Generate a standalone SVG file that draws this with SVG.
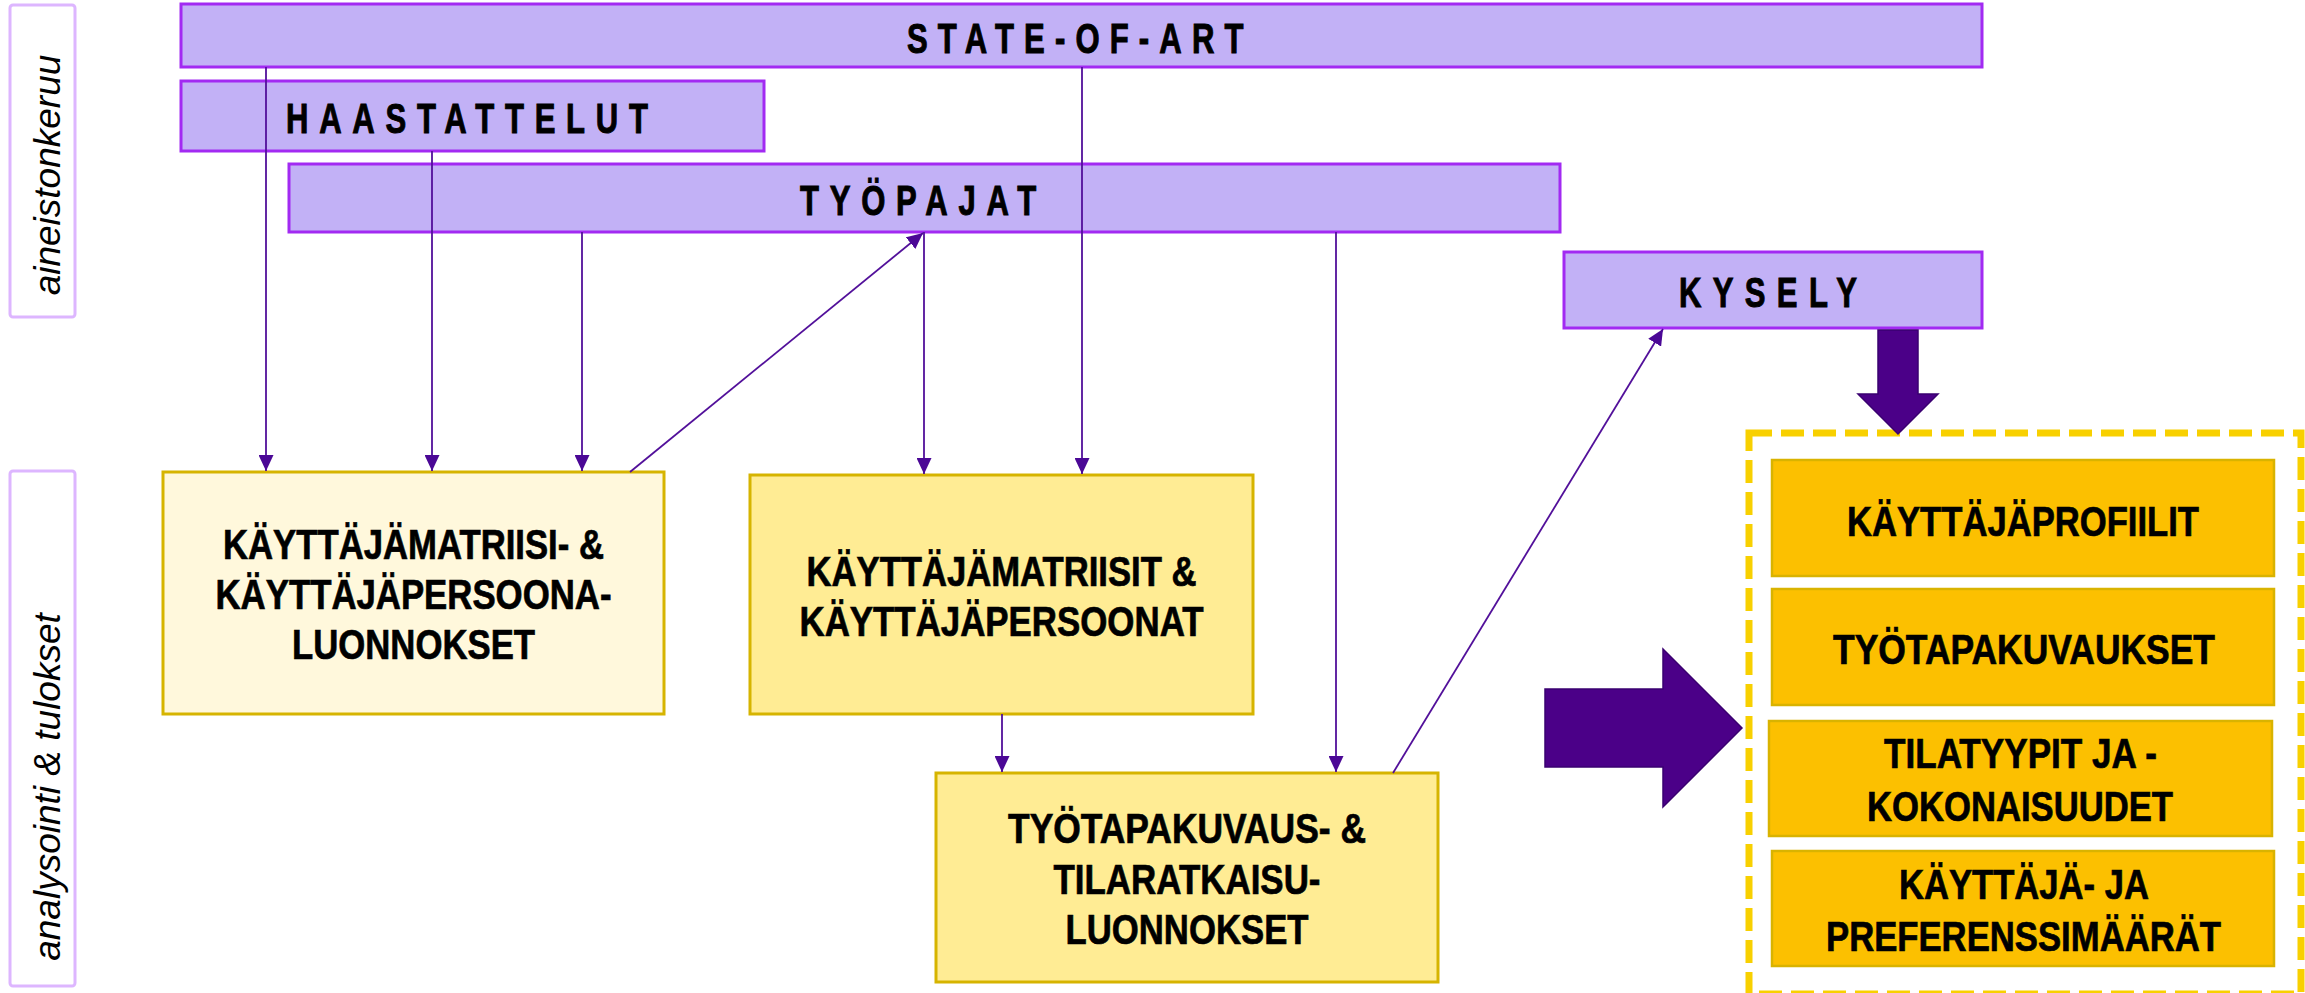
<svg xmlns="http://www.w3.org/2000/svg" width="2305" height="993" viewBox="0 0 2305 993">
<style>
.lbl{fill:#fff;stroke:#DDB6FF;stroke-width:3}
.lbltxt{font-family:"Liberation Sans",Arial,sans-serif;font-style:italic;font-size:37px;fill:#000}
.src{fill:#C2B1F6;stroke:#A22AF2;stroke-width:3}
.ttl{font-family:"Liberation Sans",Arial,sans-serif;font-weight:bold;font-size:42px;fill:#000;stroke:#000;stroke-width:1}
.draft{fill:#FFF8DC;stroke:#D6B400;stroke-width:3}
.mid{fill:#FFEC94;stroke:#D6B400;stroke-width:3}
.res{fill:#FCC000;stroke:#D9B300;stroke-width:2.5}
.bt{font-family:"Liberation Sans",Arial,sans-serif;font-weight:bold;font-size:42px;fill:#000;stroke:#000;stroke-width:0.7;text-anchor:middle}
.con{fill:none;stroke:#52109A;stroke-width:1.8}
.blk{fill:#4B0088;stroke:#3A0070;stroke-width:1.5}
</style>
<defs>
<marker id="ah" viewBox="0 0 16 15" refX="16" refY="7.5" markerWidth="16" markerHeight="15" markerUnits="userSpaceOnUse" orient="auto">
<path d="M0,0 L16,7.5 L0,15 z" fill="#4B0896"/>
</marker>
</defs>
<rect width="2305" height="993" fill="#fff"/>

<g id="label-aineistonkeruu">
<rect class="lbl" x="10" y="5" width="65" height="312" rx="3"/>
<text class="lbltxt" transform="translate(60,175) rotate(-90)" text-anchor="middle">aineistonkeruu</text>
</g>
<g id="label-analysointi">
<rect class="lbl" x="10" y="471" width="65" height="515" rx="3"/>
<text class="lbltxt" transform="translate(60,787) rotate(-90)" text-anchor="middle">analysointi &amp; tulokset</text>
</g>

<g id="state-of-art">
<rect class="src" x="181" y="4" width="1801" height="63"/>
<text class="ttl" transform="translate(907,53) scale(0.74,1)" letter-spacing="13.7">STATE-OF-ART</text>
</g>
<g id="haastattelut">
<rect class="src" x="181" y="81" width="583" height="70"/>
<text class="ttl" transform="translate(286,133) scale(0.74,1)" letter-spacing="14.5">HAASTATTELUT</text>
</g>
<g id="tyopajat">
<rect class="src" x="289" y="164" width="1271" height="68"/>
<text class="ttl" transform="translate(800,215) scale(0.74,1)" letter-spacing="14.5">TYÖPAJAT</text>
</g>
<g id="kysely">
<rect class="src" x="1564" y="252" width="418" height="76"/>
<text class="ttl" transform="translate(1679,307) scale(0.74,1)" letter-spacing="15.3">KYSELY</text>
</g>

<g id="luonnokset1">
<rect class="draft" x="163" y="472" width="501" height="242"/>
<text class="bt" x="413.5" y="559" textLength="381" lengthAdjust="spacingAndGlyphs">KÄYTTÄJÄMATRIISI- &amp;</text>
<text class="bt" x="413.5" y="609" textLength="396" lengthAdjust="spacingAndGlyphs">KÄYTTÄJÄPERSOONA-</text>
<text class="bt" x="413.5" y="659" textLength="243" lengthAdjust="spacingAndGlyphs">LUONNOKSET</text>
</g>
<g id="persoonat">
<rect class="mid" x="750" y="475" width="503" height="239"/>
<text class="bt" x="1001.5" y="586" textLength="390" lengthAdjust="spacingAndGlyphs">KÄYTTÄJÄMATRIISIT &amp;</text>
<text class="bt" x="1001.5" y="636" textLength="404" lengthAdjust="spacingAndGlyphs">KÄYTTÄJÄPERSOONAT</text>
</g>
<g id="luonnokset2">
<rect class="mid" x="936" y="773" width="502" height="209"/>
<text class="bt" x="1187" y="843" textLength="358" lengthAdjust="spacingAndGlyphs">TYÖTAPAKUVAUS- &amp;</text>
<text class="bt" x="1187" y="894" textLength="267" lengthAdjust="spacingAndGlyphs">TILARATKAISU-</text>
<text class="bt" x="1187" y="944" textLength="243" lengthAdjust="spacingAndGlyphs">LUONNOKSET</text>
</g>

<g id="tulokset">
<rect x="1749" y="433" width="552" height="561" fill="none" stroke="#F8D000" stroke-width="7" stroke-dasharray="23 9"/>
<g id="kayttajaprofiilit">
<rect class="res" x="1772" y="460" width="502" height="116"/>
<text class="bt" x="2023" y="536" font-size="43" textLength="352" lengthAdjust="spacingAndGlyphs">KÄYTTÄJÄPROFIILIT</text>
</g>
<g id="tyotapakuvaukset">
<rect class="res" x="1772" y="589" width="502" height="116"/>
<text class="bt" x="2024" y="664" font-size="43" textLength="382" lengthAdjust="spacingAndGlyphs">TYÖTAPAKUVAUKSET</text>
</g>
<g id="tilatyypit">
<rect class="res" x="1769" y="721" width="503" height="115"/>
<text class="bt" x="2020.5" y="768" font-size="43" textLength="273" lengthAdjust="spacingAndGlyphs">TILATYYPIT JA -</text>
<text class="bt" x="2020" y="821" font-size="43" textLength="306" lengthAdjust="spacingAndGlyphs">KOKONAISUUDET</text>
</g>
<g id="maarat">
<rect class="res" x="1772" y="851" width="502" height="115"/>
<text class="bt" x="2024" y="899" font-size="43" textLength="250" lengthAdjust="spacingAndGlyphs">KÄYTTÄJÄ- JA</text>
<text class="bt" x="2023.5" y="951" font-size="43" textLength="395" lengthAdjust="spacingAndGlyphs">PREFERENSSIMÄÄRÄT</text>
</g>
</g>

<g id="connectors">
<line class="con" x1="266" y1="67" x2="266" y2="471" marker-end="url(#ah)"/>
<line class="con" x1="432" y1="151" x2="432" y2="471" marker-end="url(#ah)"/>
<line class="con" x1="582" y1="232" x2="582" y2="471" marker-end="url(#ah)"/>
<line class="con" x1="630" y1="472" x2="923" y2="233" marker-end="url(#ah)"/>
<line class="con" x1="924" y1="232" x2="924" y2="474" marker-end="url(#ah)"/>
<line class="con" x1="1082" y1="67" x2="1082" y2="474" marker-end="url(#ah)"/>
<line class="con" x1="1002" y1="714" x2="1002" y2="772" marker-end="url(#ah)"/>
<line class="con" x1="1336" y1="232" x2="1336" y2="772" marker-end="url(#ah)"/>
<line class="con" x1="1393" y1="773" x2="1663" y2="329" marker-end="url(#ah)"/>
<polygon class="blk" points="1878,330 1918,330 1918,394 1938,394 1898,434 1858,394 1878,394"/>
<polygon class="blk" points="1545,689 1663,689 1663,649 1742,728 1663,807 1663,767 1545,767"/>
</g>
</svg>
